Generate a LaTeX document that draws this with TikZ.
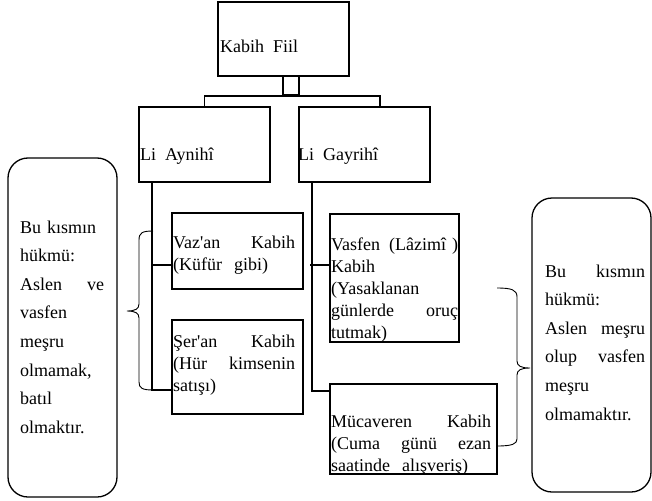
\documentclass[tikz,border=0pt]{standalone}
\usepackage{fontspec}
\setmainfont{Liberation Serif}[Ligatures=TeXOff]
\usetikzlibrary{positioning,calc}
\tikzset{
  kutu/.style args={#1,#2}{
  draw=black,
  line width=1.7pt,
  minimum width=#1pt,
  minimum height=#2pt,
  inner sep=0pt
  },
  notkutu/.style args={#1,#2}{
  kutu={#1,#2},
  line width=1.3pt,
  rounded corners=20pt
  },
  yazi/.style={font=\fontsize{18}{22}\selectfont,inner sep=0pt,anchor=base west,align=left},
  notyazi/.style={yazi,font=\fontsize{18}{28.6}\selectfont},
  hat/.style={line width=1.7pt},
  kavis/.style={line width=0.9pt}
}
\begin{document}
\begin{tikzpicture}[x=1pt,y=-1pt]
  \useasboundingbox (0,0) rectangle (652,500);

  \node [kutu={131,74}] (kf) at (283.5,39) {};
  \node [kutu={16,19}] (sap) at (291,85.5) {};
  \node [kutu={131,75}] (ayni) at (204.5,144.5) {};
  \node [kutu={131,75},right=27pt of ayni] (gayri) {};
  \node [kutu={131,76}] (vaz) at (237.5,251) {};
  \node [kutu={131,94}] (ser) at (237.5,367) {};
  \node [kutu={129,128}] (vasf) at (394.5,278) {};
  \node [kutu={167,90}] (muc) at (413.5,429) {};

  \node [notkutu={109,339}] (lnot) at (62.5,327.5) {};
  \node [notkutu={119,294}] (rnot) at (591.5,345) {};

  % yazilar
  \node [yazi] (kfy) at (220,53) {Kabih\ \ Fiil};
  \node [yazi] (ayniy) at (140,160) {Li\ \ Aynihî};
  \node [yazi] (gayriy) at (298,160) {Li\ \ Gayrihî};
  \node [yazi,text width=122pt] (vazy) at (173,248) {Vaz'an\hfill Kabih\\(Küfür\ \ gibi)};
  \node [yazi,text width=122pt] (sery) at (173,347) {Şer'an\hfill Kabih\\(Hür\hfill kimsenin\\satışı)};
  \node [yazi,text width=127pt] (vasfy) at (331,250) {Vasfen\hfill (Lâzimî )\\Kabih\\(Yasaklanan\\günlerde\hfill oruç\\tutmak)};
  \node [yazi,text width=160pt] (mucy) at (331,427) {Mücaveren\hfill Kabih\\(Cuma\hfill günü\hfill ezan\\saatinde\ \ alışveriş)};

  \node [notyazi,text width=84pt] (lnoty) at (20,233) {Bu kısmın\\hükmü:\\Aslen\hfill ve\\vasfen\\meşru\\olmamak,\\batıl\\olmaktır.};
  \node [notyazi,text width=100pt] (rnoty) at (545,277) {Bu\hfill kısmın\\hükmü:\\Aslen\hfill meşru\\olup\hfill vasfen\\meşru\\olmamaktır.};

  % baglantilar
  \draw [hat] (ayni.north) |- (sap.south) -| ([xshift=15.5pt]gayri.north);

  \coordinate (lg) at ([xshift=14pt]ayni.south west);
  \coordinate (rg) at ([xshift=14pt]gayri.south west);
  \draw [hat] (lg) |- ([yshift=-23pt]ser.west);
  \draw [hat] ([yshift=-14pt]vaz.west) -- +(-19pt,0);
  \draw [hat] (rg) |- ([yshift=-8pt]muc.north west);
  \draw [hat] ([yshift=13pt]vasf.west) -- +(-19pt,0);

  % kavisler
  \draw [kavis] (153,231) .. controls (142,231) and (139,233) .. (139,240) -- (139,304)
    .. controls (139,309) and (135,311) .. (127,311)
    .. controls (135,311) and (139,313) .. (139,318) -- (139,382)
    .. controls (139,388) and (142,390) .. (153,390);
  \draw [kavis] (497,288) .. controls (512,288) and (517,290) .. (517,297) -- (517,361)
    .. controls (517,366) and (521,368) .. (530,368)
    .. controls (521,368) and (517,370) .. (517,375) -- (517,439)
    .. controls (517,444) and (512,446) .. (497,446);
\end{tikzpicture}
\end{document}
